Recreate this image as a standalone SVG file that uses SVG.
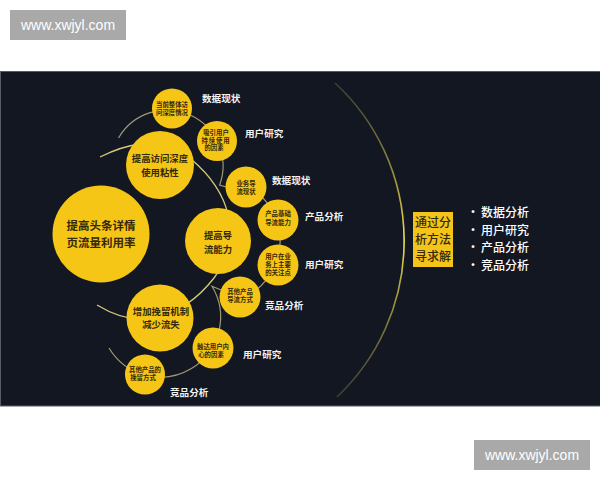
<svg xmlns="http://www.w3.org/2000/svg" width="600" height="480" viewBox="0 0 600 480">
<defs>
<linearGradient id="bigArc" gradientUnits="userSpaceOnUse" x1="0" y1="83" x2="0" y2="397">
<stop offset="0" stop-color="#6b6740" stop-opacity="0.5"/>
<stop offset="0.5" stop-color="#f3e24c"/>
<stop offset="1" stop-color="#6b6740" stop-opacity="0.5"/>
</linearGradient>
<style>
.node circle{fill:#f6c616}
.ct{font-family:"Noto Sans CJK SC","Noto Sans",sans-serif;font-weight:700;fill:#33290a;text-anchor:middle}
.s{font-size:6.4px}
.m{font-size:9.4px}
.l{font-size:11.5px}
.b{font-size:12px;font-weight:500}
.lab{font-family:"Noto Sans CJK SC","Noto Sans",sans-serif;font-weight:700;font-size:9.6px;fill:#f2f2f2}
.main{fill:none;stroke:#d3cb7a;stroke-width:1.3}
.sub{fill:none;stroke:#9e9a76;stroke-width:1.2}
.wm{font-family:"Liberation Sans",Arial,sans-serif;font-size:14px;fill:#ffffff;text-anchor:middle}
.bul{font-family:"Noto Sans CJK SC","Noto Sans",sans-serif;font-size:12px;font-weight:500;fill:#ffffff}
</style>
</defs>
<rect x="0" y="0" width="600" height="480" fill="#ffffff"/>
<rect x="0.5" y="71.5" width="600" height="334.5" fill="#131722" stroke="#585c68" stroke-width="1"/>
<g id="watermark-top"><rect x="10" y="10" width="116" height="30" fill="#a9a9a9"/><text class="wm" x="68" y="30">www.xwjyl.com</text></g>
<g id="watermark-bottom"><rect x="474" y="440" width="116" height="30" fill="#a9a9a9"/><text class="wm" x="532" y="460">www.xwjyl.com</text></g>
<g id="connectors">
<path class="main" d="M100,157 C112,151 124,146 140,144 C160,142 178,148 192,160 C210,175 224,195 228,215 C232,240 226,262 214,278 C200,296 180,312 155,318 C135,322 115,316 97,305"/>
<path class="sub" d="M118.5,138 A56,56 0 0 1 219.6,185.2 L226,187"/>
<path class="sub" d="M239.2,182.7 A62,62 0 0 1 237.2,300"/>
<path class="sub" d="M221,290 L212,286.2 A60,60 0 1 1 109,348"/>
<path fill="none" stroke="url(#bigArc)" stroke-width="1.6" d="M335,83 A215,215 0 0 1 337,397"/>
</g>
<g id="n-main" class="node"><circle cx="101" cy="234" r="48.5"/><text class="ct l" x="101" y="230">提高头条详情</text><text class="ct l" x="101" y="246.5">页流量利用率</text></g>
<g id="n-depth" class="node"><circle cx="160" cy="165" r="34"/><text class="ct m" x="160" y="162.2">提高访问深度</text><text class="ct m" x="160" y="175.6">使用粘性</text></g>
<g id="n-flow" class="node"><circle cx="218" cy="241" r="33"/><text class="ct m" x="218" y="239.3">提高导</text><text class="ct m" x="218" y="253.3">流能力</text></g>
<g id="n-retain" class="node"><circle cx="160" cy="318" r="33.5"/><text class="ct m" x="161" y="314.8">增加挽留机制</text><text class="ct m" x="161" y="328">减少流失</text></g>
<g id="n-d1" class="node"><circle cx="172" cy="108.5" r="20"/><text class="ct s" x="172" y="107.3">当前整体访</text><text class="ct s" x="172" y="115.3">问深度情况</text></g>
<g id="n-d2" class="node"><circle cx="217" cy="141" r="20"/><text class="ct s" x="216" y="135.3">吸引用户</text><text class="ct s" x="216" y="142.8" letter-spacing="0.8">持续使用</text><text class="ct s" x="214" y="150.3">的因素</text></g>
<g id="n-f1" class="node"><circle cx="246" cy="187" r="20.5"/><text class="ct s" x="246" y="186.3">业务导</text><text class="ct s" x="246" y="194.3">流现状</text></g>
<g id="n-f2" class="node"><circle cx="278" cy="220" r="20.5"/><text class="ct s" x="278" y="216.3">产品基础</text><text class="ct s" x="278" y="225.3">导流能力</text></g>
<g id="n-f3" class="node"><circle cx="278" cy="265" r="20.5"/><text class="ct s" x="278" y="259.3">用户在业</text><text class="ct s" x="278" y="267.3">务上主要</text><text class="ct s" x="278" y="275.3">的关注点</text></g>
<g id="n-f4" class="node"><circle cx="240" cy="297" r="20.5"/><text class="ct s" x="240" y="294.3">其他产品</text><text class="ct s" x="240" y="302.3">导流方式</text></g>
<g id="n-r1" class="node"><circle cx="213" cy="348" r="20.5"/><text class="ct s" x="213" y="349.3">触达用户内</text><text class="ct s" x="211" y="356.8">心的因素</text></g>
<g id="n-r2" class="node"><circle cx="145" cy="374.5" r="20"/><text class="ct s" x="145" y="372.3">其他产品的</text><text class="ct s" x="143" y="380.3">挽留方式</text></g>
<g id="labels">
<text class="lab" x="202" y="101.5">数据现状</text>
<text class="lab" x="245" y="136.5">用户研究</text>
<text class="lab" x="272" y="183.5">数据现状</text>
<text class="lab" x="305" y="219.5">产品分析</text>
<text class="lab" x="305" y="267.5">用户研究</text>
<text class="lab" x="265" y="308.5">竞品分析</text>
<text class="lab" x="243" y="357.5">用户研究</text>
<text class="lab" x="170" y="395.5">竞品分析</text>
</g>
<g id="n-method"><rect x="413" y="212" width="40" height="55" fill="#f4c41a"/><text class="ct b" x="433" y="227.3">通过分</text><text class="ct b" x="433" y="244.3">析方法</text><text class="ct b" x="433" y="261.3">寻求解</text></g>
<g id="methods">
<text class="bul" x="467" y="217.3">•</text><text class="bul" x="481" y="217.3">数据分析</text>
<text class="bul" x="467" y="235.3">•</text><text class="bul" x="481" y="235.3">用户研究</text>
<text class="bul" x="467" y="252.3">•</text><text class="bul" x="481" y="252.3">产品分析</text>
<text class="bul" x="467" y="270.3">•</text><text class="bul" x="481" y="270.3">竞品分析</text>
</g>
</svg>
